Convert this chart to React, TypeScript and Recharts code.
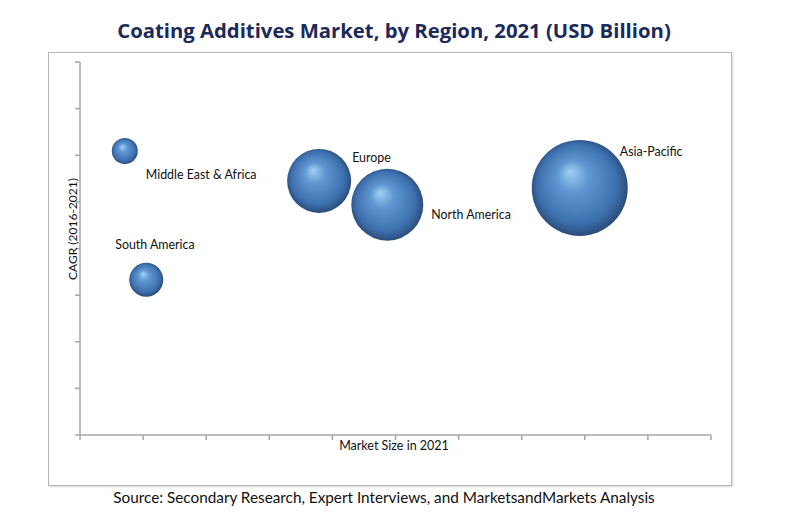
import React from 'react';
import { ScatterChart, Scatter, XAxis, YAxis, ZAxis } from 'recharts';

const regions = ['Middle East & Africa', 'South America', 'Europe', 'North America', 'Asia-Pacific'];
const marketSize = [0.71, 1.05, 3.79, 4.87, 7.92];
const cagr = [6.09, 3.33, 5.45, 4.94, 5.3];
const bubbleSize = [0.72, 1.23, 4.36, 5.51, 9.8];
const xTicks = [0, 1, 2, 3, 4, 5, 6, 7, 8, 9, 10];
const yTicks = [0, 1, 2, 3, 4, 5, 6, 7, 8];

const data = regions.map((name, i) => ({ name, x: marketSize[i], y: cagr[i], z: bubbleSize[i] }));

// label placement relative to bubble centre (style, not data)
const labelOffset: Record<string, [number, number]> = {
  'Middle East & Africa': [21, 23],
  'South America': [-31, -35],
  'Europe': [33, -23],
  'North America': [44, 10],
  'Asia-Pacific': [40, -36],
};

const FONT = 'Lato, "Open Sans", sans-serif';
const AXIS = '#a6a6a6';

const NoTick = () => <g />;

const Bubble = (props: any) => {
  const { cx, cy, width, payload, index } = props;
  const r = width / 2;
  const id = `bub-${index}`;
  const off = labelOffset[payload.name] || [0, 0];
  return (
    <g>
      <defs>
        <radialGradient id={id} cx="50%" cy="50%" r="55%" fx="40%" fy="33%">
          <stop offset="0%" stopColor="#9fd0f6" />
          <stop offset="30%" stopColor="#5f97d2" />
          <stop offset="75%" stopColor="#3d6fae" />
          <stop offset="100%" stopColor="#243f66" />
        </radialGradient>
      </defs>
      <circle cx={cx} cy={cy} r={r} fill={`url(#${id})`} />
      <text
        x={cx + off[0]}
        y={cy + off[1]}
        dominantBaseline="central"
        fontFamily={FONT}
        fontSize={12.4}
        fill="#111"
      >
        {payload.name}
      </text>
    </g>
  );
};

export default function App() {
  return (
    <div style={{ position: 'absolute', left: 0, top: 0, width: 788, height: 525, background: '#fff', fontFamily: FONT }}>
      <div
        style={{
          position: 'absolute',
          left: 48,
          top: 52,
          width: 682,
          height: 432,
          border: '1px solid #b5b5b5',
          boxShadow: '1px 1px 2px rgba(0,0,0,0.15)',
        }}
      />
      <div
        style={{
          position: 'absolute',
          left: 0,
          width: 788,
          top: 16,
          textAlign: 'center',
          fontSize: 20.3,
          fontWeight: 700,
          color: '#1c2a5a',
          fontFamily: '"Open Sans", Lato, sans-serif',
        }}
      >
        Coating Additives Market, by Region, 2021 (USD Billion)
      </div>
      <div style={{ position: 'absolute', left: 0, top: 0 }}>
        <ScatterChart width={788} height={525} margin={{ left: 79, right: 77, top: 62, bottom: 89 }}>
          <XAxis
            type="number"
            dataKey="x"
            domain={[0, 10]}
            ticks={xTicks}
            tick={NoTick}
            height={1}
            tickSize={5}
            axisLine={{ stroke: AXIS, strokeWidth: 1.5 }}
            tickLine={{ stroke: AXIS, strokeWidth: 1.5 }}
          />
          <YAxis
            type="number"
            dataKey="y"
            domain={[0, 8]}
            ticks={yTicks}
            tick={NoTick}
            width={1}
            tickSize={5}
            axisLine={{ stroke: AXIS, strokeWidth: 1.5 }}
            tickLine={{ stroke: AXIS, strokeWidth: 1.5 }}
          />
          <ZAxis type="number" dataKey="z" domain={[0, 9.8]} range={[0, 7238]} />
          <Scatter data={data} shape={<Bubble />} isAnimationActive={false} />
        </ScatterChart>
      </div>
      <div
        style={{
          position: 'absolute',
          left: 394,
          top: 445,
          transform: 'translate(-50%, -50%)',
          fontSize: 12.5,
          color: '#111',
          whiteSpace: 'nowrap',
        }}
      >
        Market Size in 2021
      </div>
      <div
        style={{
          position: 'absolute',
          left: 72,
          top: 229,
          transform: 'translate(-50%, -50%) rotate(-90deg)',
          fontSize: 12,
          color: '#111',
          whiteSpace: 'nowrap',
        }}
      >
        CAGR (2016-2021)
      </div>
      <div
        style={{
          position: 'absolute',
          left: -10,
          width: 788,
          top: 488,
          textAlign: 'center',
          fontSize: 15.3,
          color: '#111',
        }}
      >
        Source: Secondary Research, Expert Interviews, and MarketsandMarkets Analysis
      </div>
    </div>
  );
}
